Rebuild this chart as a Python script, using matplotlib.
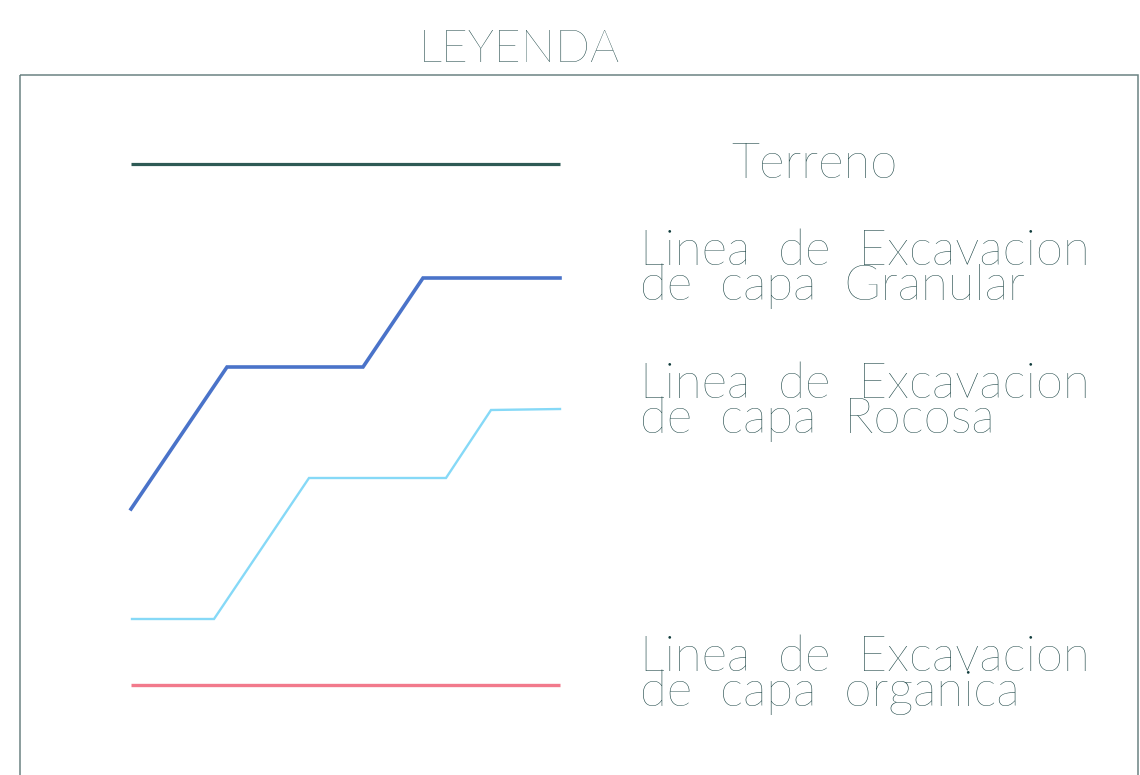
import matplotlib
matplotlib.use("Agg")
import matplotlib.pyplot as plt
from matplotlib.patches import Rectangle

# Legend samples (picture coordinates, y grows downwards)
terreno_x = [131, 560]
terreno_y = [164, 164]

granular_x = [131, 227, 363, 423, 560]
granular_y = [509, 367, 367, 278, 278]

rocosa_x = [132, 214, 309, 446, 491, 560]
rocosa_y = [619, 619, 478, 478, 410, 409]

organica_x = [131, 560]
organica_y = [685, 685]

title = "LEYENDA"
labels = [
    "Terreno",
    "Linea  de  Excavacion\nde  capa  Granular",
    "Linea  de  Excavacion\nde  capa  Rocosa",
    "Linea  de  Excavacion\nde  capa  organica",
]
# baseline of the last line of each label
label_x = [731, 640, 640, 640]
label_base = [178, 300, 433, 706]

txt_color = "#123d3d"
font = dict(family=["Lato", "DejaVu Sans"], fontweight="light", color=txt_color)

fig = plt.figure(figsize=(11.4, 7.75), dpi=100)
ax = fig.add_axes([0, 0, 1, 1])
ax.set_xlim(0, 1140)
ax.set_ylim(775, 0)
ax.axis("off")

# frame of the legend box
ax.add_patch(Rectangle((20, 75), 1118, 720, fill=False, edgecolor="#6b8282", lw=1.1))

ax.text(419, 62, title, fontsize=33, va="baseline", ha="left", **font)

ax.plot(terreno_x, terreno_y, color="#2e5a55", lw=2.3, solid_capstyle="butt")
ax.plot(granular_x, granular_y, color="#4a73c9", lw=2.6, solid_joinstyle="miter")
ax.plot(rocosa_x, rocosa_y, color="#86d9f7", lw=1.7, solid_joinstyle="miter")
ax.plot(organica_x, organica_y, color="#f27a8c", lw=2.4, solid_capstyle="butt")

for x, s, b in zip(label_x, labels, label_base):
    ax.text(x, b, s, fontsize=35.5, va="baseline", ha="left", linespacing=0.72, **font)

fig.savefig("out.png", dpi=100, facecolor="white")
